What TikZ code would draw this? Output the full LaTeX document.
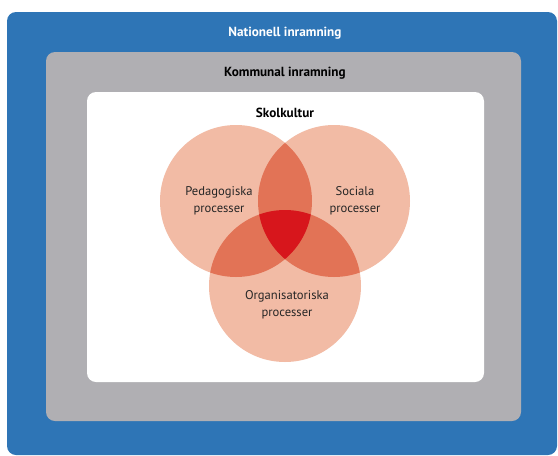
\documentclass[tikz,border=0pt]{standalone}
\usepackage{fontspec}
\setmainfont{PT Sans}
\definecolor{nblue}{RGB}{46,117,182}
\definecolor{kgray}{RGB}{176,175,179}
\definecolor{clight}{RGB}{242,187,165}
\definecolor{cmid}{RGB}{226,115,86}
\definecolor{cred}{RGB}{215,22,28}
\tikzset{
  frame/.style={rounded corners=9pt},
  title/.style={font=\bfseries\fontsize{13.2}{15}\selectfont},
  lbl/.style={font=\fontsize{12.6}{17.5}\selectfont, align=center, text=black!85}
}
\begin{document}
\begin{tikzpicture}[x=1pt,y=-1pt]
\useasboundingbox (0,0) rectangle (558,456);
\fill[white] (0,0) rectangle (558,456);
\fill[nblue,frame] (7,12) rectangle (557,455);
\fill[kgray,frame] (46,52) rectangle (521,421);
\fill[white,frame] (87,92) rectangle (484,382);
\node[title,text=white] (nat) at (285,33) {Nationell inramning};
\node[title,text=black] (kom) at (285,73) {Kommunal inramning};
\node[title,text=black] (skol) at (285,113) {Skolkultur};
\coordinate (cA) at (236,201);
\coordinate (cB) at (334,201);
\coordinate (cC) at (285,286);
\def\R{76}
\fill[clight] (cA) circle (\R);
\fill[clight] (cB) circle (\R);
\fill[clight] (cC) circle (\R);
\begin{scope}
  \clip (cA) circle (\R);
  \fill[cmid] (cB) circle (\R);
  \fill[cmid] (cC) circle (\R);
\end{scope}
\begin{scope}
  \clip (cB) circle (\R);
  \fill[cmid] (cC) circle (\R);
\end{scope}
\begin{scope}
  \clip (cA) circle (\R);
  \clip (cB) circle (\R);
  \fill[cred] (cC) circle (\R);
\end{scope}
\node[lbl] (ped) at (219,201) {Pedagogiska\\processer};
\node[lbl] (soc) at (355,201) {Sociala\\processer};
\node[lbl] (org) at (287,305) {Organisatoriska\\processer};
\end{tikzpicture}
\end{document}
